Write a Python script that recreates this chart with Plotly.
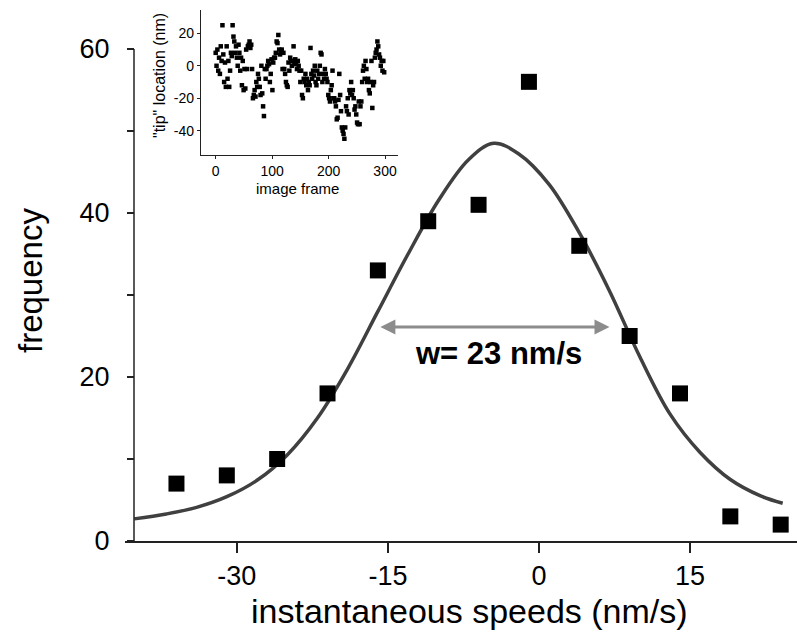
import numpy as np
import plotly.graph_objects as go

# ---- main histogram (instantaneous speeds) ----
speed = [-36, -31, -26, -21, -16, -11, -6, -1, 4, 9, 14, 19, 24]
freq = [7, 8, 10, 18, 33, 39, 41, 56, 36, 25, 18, 3, 2]

# fitted curve
fit_x = [-40.2, -37, -34, -31, -28, -25, -22, -19, -16, -13, -10, -7, -4.5,
         -2, 1, 4, 7, 10, 13, 16, 19, 22, 24.2]
fit_y = [2.7, 3.3, 4.1, 5.4, 7.4, 10.5, 15, 21, 28, 35, 41.5, 46.5, 48.5,
         47.2, 43.5, 37.6, 30.5, 22.5, 15.5, 10.8, 7.5, 5.5, 4.6]

x_ticks = [-30, -15, 0, 15]
x_ticktext = ["-30", "-15", "0", "15"]
y_ticks = [0, 10, 20, 30, 40, 50, 60]
y_ticktext = ["0", "", "20", "", "40", "", "60"]

# ---- inset: tip location vs image frame ----
frame_step = 1.5
tip_loc = [
    8, 0, 10, -3, 5, -5, 12, 3, 25, 7,
    -10, 2, -13, 12, -8, 3, -13, -3, 8, 6,
    25, 18, 15, 8, 12, 5, 0, 13, 8, -3,
    5, -12, 3, -15, -2, -14, 10, -2, 12, 13,
    15, 11, 13, -2, -20, -18, -15, -19, -10, -13,
    -5, -8, -13, -18, 0, -17, -25, -31, -2, -8,
    -2, 0, 3, 1, -10, -5, 4, -15, 2, 5,
    5, 8, 15, 14, 19, 10, 7, 8, 10, -2,
    8, -2, -5, -10, -12, -13, 2, -3, 5, 3,
    0, 3, 12, 2, 4, 1, -2, 3, 0, -3,
    -10, -3, -18, -20, -8, -10, -5, -12, -8, -15,
    -10, -12, 11, -5, -8, -3, -6, 0, -10, -12,
    -3, -8, -5, 0, 8, 7, -10, -5, -8, -2,
    -5, -8, -10, -18, -20, -22, -15, -12, -3, -20,
    -20, -22, -25, -33, -32, -21, -5, -18, -28, -38,
    -40, -42, -45, -38, -25, -28, -20, -30, -15, -17,
    -10, -18, -15, -20, -27, -25, -30, -35, -36, -22,
    -36, -25, -22, -10, -3, 0, -8, 3, -2, -10,
    -8, -15, -17, -10, 3, -26, -12, -10, 5, 8,
    10, 15, 12, 7, 5, 0, 3, -3, 3, -4,
]
frames = [i * frame_step for i in range(len(tip_loc))]
inset_x_ticks = [0, 100, 200, 300]
inset_y_ticks = [-40, -20, 0, 20]
inset_y_ticktext = ["-40", "-20", "0", "20"]

FONT = "Liberation Sans, Arial, sans-serif"

fig = go.Figure()

fig.add_trace(go.Scatter(x=fit_x, y=fit_y, mode="lines",
                         line=dict(color="#404040", width=3.5, shape="spline"),
                         hoverinfo="skip", showlegend=False))
fig.add_trace(go.Scatter(x=speed, y=freq, mode="markers",
                         marker=dict(symbol="square", size=16, color="black"),
                         showlegend=False))
fig.add_trace(go.Scatter(x=frames, y=tip_loc, mode="markers",
                         marker=dict(symbol="square", size=4.5, color="black"),
                         xaxis="x2", yaxis="y2", showlegend=False))

W, H = 797, 638
L, R, T, B = 125, 0, 10, 97
pw, ph = W - L - R, H - T - B

def px_x(p):
    return (p - L) / pw

def px_y(p):
    return (H - B - p) / ph

y_axis_pos = px_x(134)

fig.update_layout(
    width=W, height=H,
    margin=dict(l=L, r=R, t=T, b=B),
    paper_bgcolor="white", plot_bgcolor="white",
    font=dict(family=FONT, color="black"),
    xaxis=dict(range=[-41.11, 25.62], tickvals=x_ticks, ticktext=x_ticktext,
               ticks="outside",
               ticklen=10, tickwidth=1.5, tickcolor="#222",
               showline=True, linecolor="#222", linewidth=1.5,
               showgrid=False, zeroline=False,
               tickfont=dict(size=27, family=FONT)),
    yaxis=dict(range=[0, 64.76], tickvals=y_ticks, ticktext=y_ticktext,
               anchor="free", position=y_axis_pos,
               ticks="outside", ticklen=7, tickwidth=1.5, tickcolor="#222",
               showline=False, showgrid=False, zeroline=False,
               ticklabelstandoff=12,
               tickfont=dict(size=27, family=FONT)),
    xaxis2=dict(domain=[px_x(201), px_x(398)], range=[-26, 323], anchor="y2",
                tickvals=inset_x_ticks, ticks="outside", ticklen=3,
                tickcolor="#222", showline=True, linecolor="#222", linewidth=1.2,
                showgrid=False, zeroline=False,
                tickfont=dict(size=14, family=FONT)),
    yaxis2=dict(domain=[px_y(155), 1.0], range=[-55, 34.4], anchor="x2",
                tickvals=inset_y_ticks, ticktext=inset_y_ticktext,
                ticks="outside", ticklen=3,
                tickcolor="#222", showline=True, linecolor="#222", linewidth=1.2,
                showgrid=False, zeroline=False,
                tickfont=dict(size=14, family=FONT)),
    shapes=[
        dict(type="line", xref="paper", yref="y", x0=y_axis_pos, x1=y_axis_pos,
             y0=0, y1=60, line=dict(color="#222", width=1.5)),
    ],
    annotations=[
        dict(x=7.0, y=26.1, ax=-15.9, ay=26.1, xref="x", yref="y",
             axref="x", ayref="y", text="", showarrow=True,
             arrowhead=2, arrowside="end+start", arrowsize=1,
             arrowwidth=3, arrowcolor="#8c8c8c", standoff=0, startstandoff=0),
        dict(x=-4, y=22.9, xref="x", yref="y", text="<b>w= 23 nm/s</b>",
             showarrow=False, font=dict(size=31, family=FONT, color="black")),
        dict(x=px_x(470), y=px_y(611), xref="paper", yref="paper",
             text="instantaneous speeds (nm/s)", showarrow=False,
             xanchor="center", yanchor="middle",
             font=dict(size=34, family=FONT)),
        dict(x=px_x(30), y=px_y(281), xref="paper", yref="paper",
             text="frequency", showarrow=False, textangle=-90,
             xanchor="center", yanchor="middle",
             font=dict(size=33, family=FONT)),
        dict(x=px_x(297), y=px_y(189), xref="paper", yref="paper",
             text="image frame", showarrow=False,
             xanchor="center", yanchor="middle",
             font=dict(size=15, family=FONT)),
        dict(x=px_x(160), y=px_y(76), xref="paper", yref="paper",
             text='"tip" location (nm)', showarrow=False, textangle=-90,
             xanchor="center", yanchor="middle",
             font=dict(size=16, family=FONT)),
    ],
)

fig.write_html("out.html")
